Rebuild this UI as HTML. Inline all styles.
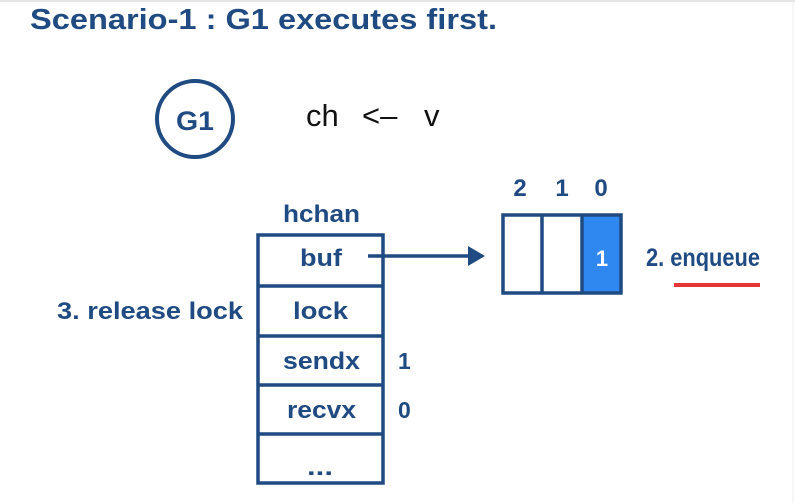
<!DOCTYPE html>
<html><head><meta charset="utf-8"><style>
html,body{margin:0;padding:0;background:#fff;}
svg{display:block;}
text{font-family:"Liberation Sans",sans-serif;font-weight:bold;fill:#1f4a82;}
</style></head><body>
<svg width="795" height="503" viewBox="0 0 795 503" xmlns="http://www.w3.org/2000/svg">
<rect width="795" height="503" fill="#fff"/>
<line x1="0" y1="1" x2="795" y2="1" stroke="#e6e6e6" stroke-width="2"/>
<line x1="793" y1="0" x2="793" y2="503" stroke="#ececec" stroke-width="1"/>
<text x="30" y="29" font-size="29" textLength="467" lengthAdjust="spacingAndGlyphs">Scenario-1 : G1 executes first.</text>
<circle cx="195" cy="119" r="38" fill="none" stroke="#1f4a82" stroke-width="4"/>
<text x="176" y="130" font-size="27" textLength="38" lengthAdjust="spacingAndGlyphs">G1</text>
<g font-size="31" style="font-weight:normal;fill:#111">
<text x="306" y="126" style="fill:#111;font-weight:normal">ch</text>
<text x="362" y="126" style="fill:#111;font-weight:normal">&lt;–</text>
<text x="424" y="126" style="fill:#111;font-weight:normal">v</text>
</g>
<text x="283" y="222" font-size="24" textLength="77" lengthAdjust="spacingAndGlyphs">hchan</text>
<g stroke="#1f4a82" stroke-width="3.5" fill="none">
<rect x="258" y="235" width="125" height="248"/>
<line x1="258" y1="286" x2="383" y2="286"/>
<line x1="258" y1="336" x2="383" y2="336"/>
<line x1="258" y1="385" x2="383" y2="385"/>
<line x1="258" y1="434" x2="384" y2="434"/>
</g>
<g font-size="24">
<text x="300" y="266" textLength="42" lengthAdjust="spacingAndGlyphs">buf</text>
<text x="293" y="319" textLength="55" lengthAdjust="spacingAndGlyphs">lock</text>
<text x="283" y="369" textLength="77" lengthAdjust="spacingAndGlyphs">sendx</text>
<text x="287" y="418" textLength="69" lengthAdjust="spacingAndGlyphs">recvx</text>
<text x="307" y="475" textLength="26" lengthAdjust="spacingAndGlyphs">...</text>
</g>
<text x="398" y="369" font-size="23">1</text>
<text x="398" y="418" font-size="23">0</text>
<text x="57" y="319" font-size="24" textLength="186" lengthAdjust="spacingAndGlyphs">3. release lock</text>
<line x1="368" y1="256" x2="470" y2="256" stroke="#1f4a82" stroke-width="3.5"/>
<polygon points="468,246 485,256 468,266" fill="#1f4a82"/>
<rect x="582" y="215" width="39" height="78" fill="#2f88f0"/>
<g stroke="#1f4a82" stroke-width="3.5" fill="none">
<rect x="503" y="215" width="118" height="78"/>
<line x1="542" y1="215" x2="542" y2="293"/>
<line x1="582" y1="215" x2="582" y2="293"/>
</g>
<text x="602" y="266" font-size="22" text-anchor="middle" style="fill:#fff">1</text>
<g font-size="24" text-anchor="middle">
<text x="520" y="196">2</text>
<text x="562" y="196">1</text>
<text x="601" y="196">0</text>
</g>
<text x="646" y="266" font-size="25" textLength="114" lengthAdjust="spacingAndGlyphs">2. enqueue</text>
<line x1="674" y1="285" x2="760" y2="285" stroke="#e53535" stroke-width="4"/>
</svg>
</body></html>
